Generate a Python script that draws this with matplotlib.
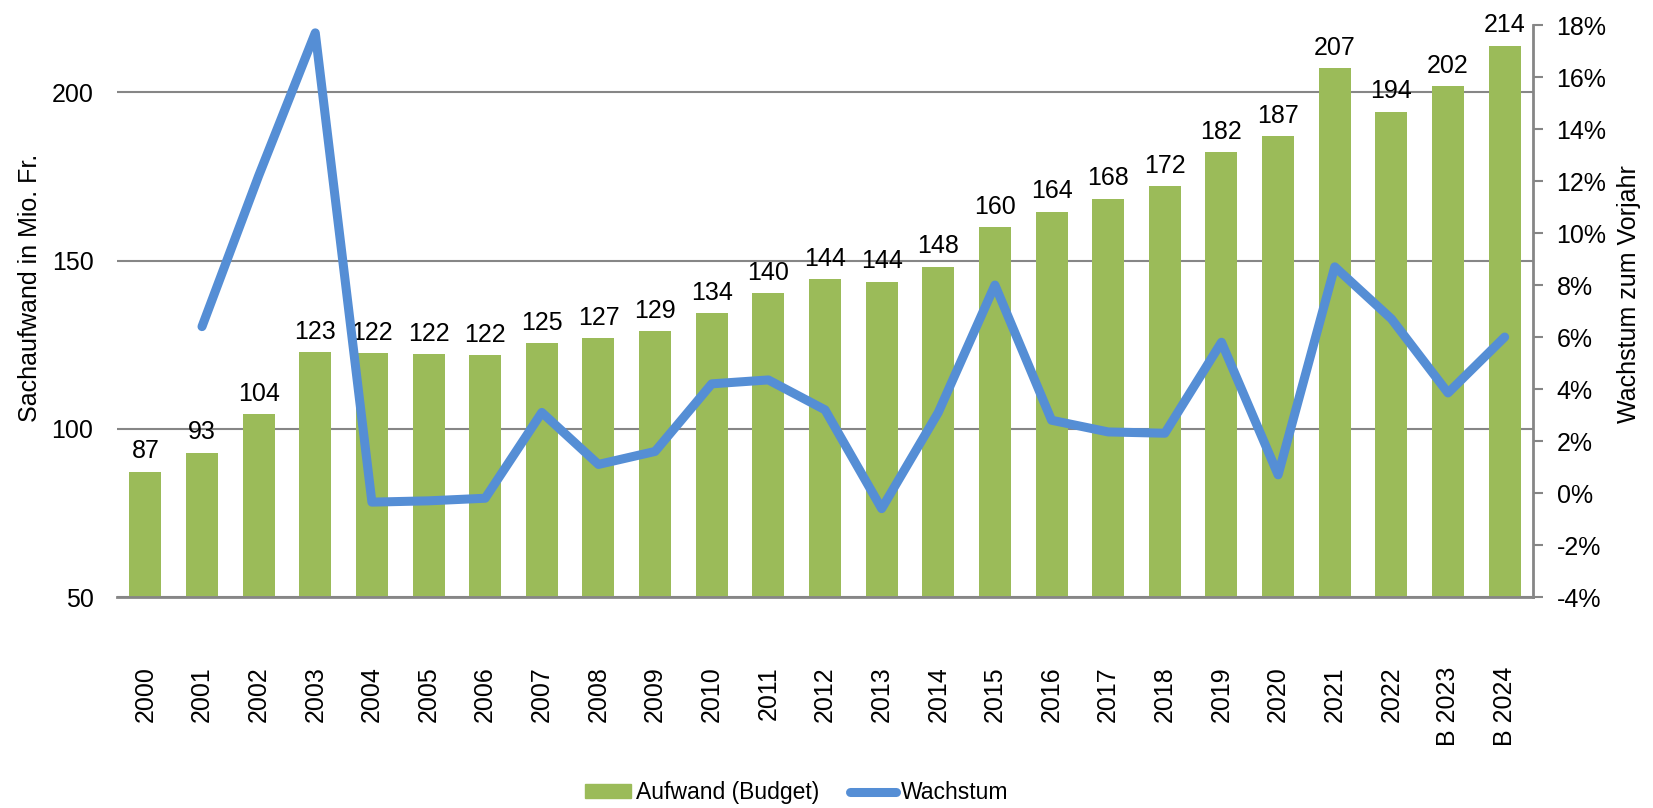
import matplotlib.pyplot as plt
from matplotlib.ticker import FuncFormatter
from matplotlib.lines import Line2D
from matplotlib.patches import Patch

plt.rcParams['font.family'] = ['Liberation Sans', 'DejaVu Sans']

years = ['2000', '2001', '2002', '2003', '2004', '2005', '2006', '2007', '2008', '2009',
         '2010', '2011', '2012', '2013', '2014', '2015', '2016', '2017', '2018', '2019',
         '2020', '2021', '2022', 'B 2023', 'B 2024']
aufwand = [87.3, 92.9, 104.4, 122.8, 122.4, 122.1, 121.8, 125.4, 127.0, 129.0,
           134.4, 140.3, 144.4, 143.7, 148.2, 160.0, 164.5, 168.4, 172.1, 182.2,
           186.9, 207.1, 194.3, 201.8, 213.9]
# growth vs previous year in %, none for 2000
wachstum = [None, 6.4, 12.2, 17.7, -0.35, -0.3, -0.2, 3.1, 1.1, 1.6,
            4.2, 4.35, 3.2, -0.6, 3.1, 8.0, 2.8, 2.35, 2.3, 5.8,
            0.7, 8.7, 6.7, 3.85, 6.0]

green = '#9BBB59'
blue = '#558ED5'
grey = '#868686'
fs = 18

fig = plt.figure(figsize=(16.53, 8.08), dpi=100)
ax = fig.add_axes([0.0708, 0.2611, 0.8566, 0.7079])
x = list(range(len(years)))

ax.bar(x, [v - 50 for v in aufwand], bottom=50, width=0.565, color=green, zorder=2)
for xi, v in zip(x, aufwand):
    ax.text(xi, v + 2.5, '%.0f' % v, ha='center', va='bottom', fontsize=fs, zorder=4)

ax.set_ylim(50, 220)
ax.set_xlim(-0.5, len(years) - 0.5)
ax.set_yticks([50, 100, 150, 200])
ax.yaxis.grid(True, color=grey, lw=1.5, zorder=0)
ax.tick_params(axis='y', length=0, labelsize=fs, pad=17)
ax.set_xticks(x)
ax.set_xticklabels(years, rotation=90, fontsize=fs)
ax.tick_params(axis='x', length=0, pad=50)
for s in ['top', 'right', 'left']:
    ax.spines[s].set_visible(False)
ax.spines['bottom'].set_color(grey)
ax.spines['bottom'].set_linewidth(2)
ax.set_ylabel('Sachaufwand in Mio. Fr.', fontsize=fs)
ax.yaxis.set_label_coords(-0.053, 0.54)

ax2 = ax.twinx()
xs = [xi for xi, w in zip(x, wachstum) if w is not None]
ws = [w for w in wachstum if w is not None]
ax2.plot(xs, ws, color=blue, lw=6.5, solid_capstyle='round', solid_joinstyle='round', zorder=3)
ax2.set_ylim(-4, 18)
ax2.set_yticks(range(-4, 19, 2))
ax2.yaxis.set_major_formatter(FuncFormatter(lambda v, p: '%d%%' % v))
ax2.tick_params(axis='y', labelsize=fs, color=grey, length=7, width=1.5, pad=10)
for s in ['top', 'left', 'bottom']:
    ax2.spines[s].set_visible(False)
ax2.spines['right'].set_color(grey)
ax2.spines['right'].set_linewidth(2)
ax2.set_ylabel('Wachstum zum Vorjahr', fontsize=fs)
ax2.yaxis.set_label_coords(1.059, 0.53)

handles = [Patch(color=green, label='Aufwand (Budget)'),
           Line2D([0], [0], color=blue, lw=6.5, solid_capstyle='round', label='Wachstum')]
fig.legend(handles=handles, loc='center', bbox_to_anchor=(0.482, 0.019), ncol=2,
           frameon=False, fontsize=16.5, handlelength=2.0, handleheight=0.55,
           handletextpad=0.2, columnspacing=1.35)

fig.savefig('out.png', dpi=100)
